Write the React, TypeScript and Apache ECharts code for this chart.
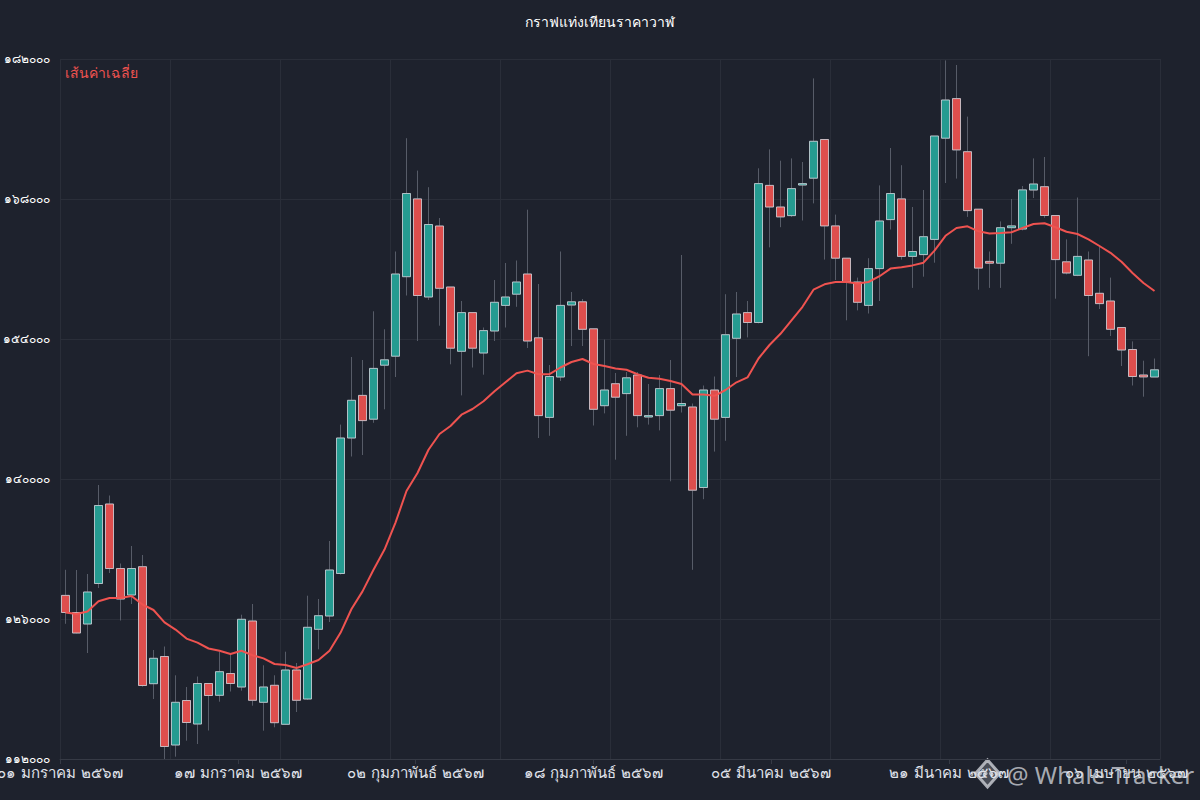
import React, { useEffect, useRef } from "react";
import * as echarts from "echarts";

const TH_DIGITS = "๐๑๒๓๔๕๖๗๘๙";
const toThai = (s: string | number) =>
  String(s).replace(/[0-9]/g, (d) => TH_DIGITS[Number(d)]);

const titleText = "กราฟแท่งเทียนราคาวาฬ";
const maName = "เส้นค่าเฉลี่ย";
const watermarkText = "@ Whale Tracker";

const thaiMonths = [
  "มกราคม", "กุมภาพันธ์", "มีนาคม", "เมษายน", "พฤษภาคม", "มิถุนายน",
  "กรกฎาคม", "สิงหาคม", "กันยายน", "ตุลาคม", "พฤศจิกายน", "ธันวาคม",
];

// 100 consecutive days
const startDate = new Date(2024, 0, 1);
const pad2 = (n: number) => (n < 10 ? "0" + n : String(n));
const categories: string[] = Array.from({ length: 100 }, (_, i) => {
  const d = new Date(startDate.getTime() + i * 86400000);
  return toThai(pad2(d.getDate())) + " " + thaiMonths[d.getMonth()] + " " + toThai(d.getFullYear() + 543);
});

const yMin = 112000;
const yMax = 182000;
const yInterval = 14000;

const openValues = [
  128360, 126650, 125500, 129550, 137500, 131050, 128400, 131230, 119530, 122250,
  113400, 117850, 115500, 119550, 118370, 120550, 119200, 125800, 117670, 119370,
  115470, 120900, 118000, 124970, 126300, 130550, 144100, 148360, 145980, 151380,
  152280, 160230, 168010, 158200, 165300, 159200, 152770, 156640, 152600, 154800,
  157360, 158480, 160500, 154120, 146160, 150200, 157400, 157720, 155020, 147330,
  149530, 148540, 150400, 146200, 146340, 149040, 147330, 147200, 139150, 148900,
  146160, 154070, 156640, 155650, 169360, 167200, 166340, 169400, 170080, 173950,
  165310, 162080, 159700, 157360, 161040, 165940, 168010, 162260, 162440, 163960,
  174080, 178040, 172730, 166980, 161760, 161580, 165130, 165000, 168900, 169230,
  166350, 161720, 160370, 161900, 158570, 157800, 155150, 152950, 150400, 150200,
];
const closeValues = [
  126650, 124600, 128700, 137350, 131050, 128000, 131050, 119350, 122070, 113250,
  117670, 115650, 119550, 118350, 120730, 119550, 125970, 117870, 119200, 115630,
  120900, 117870, 125170, 126330, 130900, 144100, 147870, 145840, 151060, 151920,
  160500, 168550, 158350, 165450, 159070, 153080, 156640, 153080, 154840, 157670,
  158200, 159700, 153800, 146340, 150250, 157360, 157720, 154970, 146970, 148900,
  148180, 150120, 146340, 146340, 149040, 146880, 147550, 138880, 148900, 145980,
  154430, 156500, 155650, 169540, 167200, 166210, 169040, 169540, 173770, 165310,
  162080, 159700, 157670, 161040, 165800, 168550, 162260, 162750, 164230, 174300,
  177900, 172910, 166840, 161090, 161580, 165130, 165310, 168910, 169500, 166350,
  161940, 160600, 162260, 158350, 157540, 154970, 152900, 150250, 150210, 150920,
];
const lowValues = [
  125520, 124550, 122600, 129100, 130600, 125850, 127500, 119230, 118000, 112000,
  112230, 113830, 113500, 114850, 117730, 118750, 118830, 117330, 114830, 115170,
  115400, 116700, 117900, 122970, 125700, 130450, 142250, 142400, 145620, 146970,
  150200, 158350, 153800, 157900, 155330, 151470, 148360, 151150, 150430, 153800,
  155150, 157220, 153100, 144100, 144320, 149800, 153300, 153300, 145350, 146560,
  141930, 144320, 145170, 145440, 144860, 139770, 146650, 130920, 137980, 142740,
  143820, 150200, 154160, 155560, 163160, 165180, 166200, 165850, 167560, 161940,
  159900, 155870, 156860, 156550, 157800, 164950, 161940, 159110, 160230, 161630,
  169600, 170040, 166210, 158930, 159110, 159110, 163520, 164860, 168100, 166120,
  158030, 160460, 160280, 152280, 157000, 154300, 151300, 149350, 148230, 150200,
];
const highValues = [
  130920, 130900, 130500, 139400, 138350, 131550, 133300, 132400, 122900, 123250,
  120370, 119200, 120250, 119600, 122730, 122400, 126430, 127500, 121370, 120370,
  122730, 121600, 128330, 128000, 133800, 145440, 152200, 151900, 156770, 154970,
  162750, 174080, 170840, 169180, 166100, 159200, 157800, 156640, 155150, 159900,
  161600, 161850, 166930, 159500, 151400, 162750, 158700, 158000, 155020, 153940,
  150600, 150700, 150700, 149500, 150400, 151900, 162400, 147550, 149350, 150250,
  158480, 158700, 157800, 171070, 172960, 171830, 172060, 171700, 180060, 173950,
  166440, 162080, 160140, 162080, 169360, 173100, 171380, 167200, 168900, 174300,
  181860, 181400, 176240, 166980, 162750, 165760, 168000, 169300, 172060, 172200,
  166350, 163960, 168150, 162750, 163300, 160140, 155150, 153760, 151830, 152050,
];
const maValues = [
  126650, 126500, 126740, 127770, 128100, 128100, 128300, 127450, 126900, 125660,
  124940, 124040, 123640, 123050, 122830, 122500, 122830, 122380, 122060, 121500,
  121400, 121100, 121470, 121900, 122830, 124620, 127000, 128760, 130920, 132940,
  135640, 138800, 140600, 142920, 144500, 145300, 146430, 147000, 147780, 148770,
  149670, 150570, 150840, 150480, 150480, 151150, 151700, 152000, 151500, 151300,
  151060, 150930, 150480, 150120, 150030, 149800, 149500, 148450, 148450, 148320,
  148900, 149670, 150160, 152050, 153400, 154520, 155870, 157220, 158930, 159470,
  159700, 159700, 159560, 159700, 160280, 161040, 161180, 161360, 161630, 162840,
  164320, 165100, 165270, 164770, 164550, 164600, 164680, 165100, 165500, 165580,
  165180, 164730, 164500, 163960, 163300, 162620, 161720, 160600, 159600, 158800,
];

const UP = "#26a69a";
const DOWN = "#ef5350";
const BG = "#1e222d";
const GRID = "#2a2e39";

export default function App() {
  const ref = useRef<HTMLDivElement>(null);
  useEffect(() => {
    if (!ref.current) return;
    const chart = echarts.init(ref.current, undefined, { renderer: "svg" });
    const fullCandles = openValues.map((o, i) => [o, closeValues[i], lowValues[i], highValues[i]]);
    const bodies = openValues.map((o, i) => [
      o,
      closeValues[i],
      Math.min(o, closeValues[i]),
      Math.max(o, closeValues[i]),
    ]);
    const wm = "rgba(205,208,214,0.8)";
    chart.setOption({
      animation: false,
      backgroundColor: BG,
      textStyle: { fontFamily: "DejaVu Sans" },
      title: {
        text: titleText,
        left: "center",
        top: 10,
        textStyle: { color: "#ffffff", fontSize: 14, fontWeight: "normal" },
      },
      legend: {
        data: [maName],
        left: 55,
        top: 61,
        icon: "none",
        itemWidth: 0,
        itemHeight: 14,
        textStyle: { color: DOWN, fontSize: 14 },
      },
      grid: { left: 60, right: 40, top: 59, bottom: 41, outerBoundsMode: "none" },
      xAxis: [
        {
          type: "category",
          data: categories,
          boundaryGap: true,
          position: "top",
          axisLine: { show: false },
          axisTick: { show: false },
          axisLabel: { show: false },
          splitLine: { show: true, interval: 9, lineStyle: { color: GRID, width: 1 } },
        },
        {
          type: "category",
          data: categories,
          boundaryGap: false,
          position: "bottom",
          axisLine: { show: true, lineStyle: { color: "#363a45" } },
          axisTick: { show: true, interval: 15, length: 5, lineStyle: { color: "#363a45" } },
          axisLabel: { interval: 15, color: "#e0e3eb", fontSize: 15, margin: 6 },
          splitLine: { show: false },
        },
      ],
      yAxis: {
        type: "value",
        min: yMin,
        max: yMax,
        interval: yInterval,
        axisLine: { show: false },
        axisTick: { show: false },
        axisLabel: {
          color: "#ffffff",
          fontSize: 12,
          margin: 10,
          formatter: (v: number) => toThai(v),
        },
        splitLine: { show: true, lineStyle: { color: GRID, width: 1 } },
      },
      series: [
        {
          name: "wicks",
          type: "candlestick",
          xAxisIndex: 0,
          data: fullCandles,
          barWidth: 8,
          silent: true,
          itemStyle: {
            color: "transparent",
            color0: "transparent",
            borderColor: "#575c68",
            borderColor0: "#575c68",
            borderWidth: 1,
          },
        },
        {
          name: "bodies",
          type: "candlestick",
          xAxisIndex: 0,
          data: bodies,
          barWidth: 8,
          itemStyle: {
            color: UP,
            color0: DOWN,
            borderColor: "rgba(214,217,224,0.8)",
            borderColor0: "rgba(214,217,224,0.8)",
            borderWidth: 1,
            opacity: 0.92,
          },
        },
        {
          name: maName,
          type: "line",
          xAxisIndex: 0,
          data: maValues,
          symbol: "none",
          smooth: false,
          lineStyle: { color: DOWN, width: 2 },
          itemStyle: { color: DOWN },
          z: 5,
        },
      ],
      graphic: [
        {
          type: "group",
          z: 100,
          children: [
            {
              type: "polygon",
              shape: { points: [[987.5, 760], [999.5, 773.5], [987.5, 787], [975.5, 773.5]] },
              style: { fill: "rgba(205,208,214,0.25)", stroke: wm, lineWidth: 3 },
            },
            { type: "circle", shape: { cx: 980, cy: 773.5, r: 2 }, style: { fill: wm } },
            { type: "circle", shape: { cx: 985.5, cy: 773.5, r: 2 }, style: { fill: wm } },
            { type: "circle", shape: { cx: 991, cy: 773.5, r: 2 }, style: { fill: wm } },
            { type: "circle", shape: { cx: 996.5, cy: 773.5, r: 2 }, style: { fill: wm } },
            {
              type: "text",
              x: 1007,
              y: 774,
              style: {
                text: watermarkText,
                fill: wm,
                font: "24px 'Noto Sans'",
                textVerticalAlign: "middle",
              },
            },
          ],
        },
      ],
    });
    return () => chart.dispose();
  }, []);
  return (
    <div
      ref={ref}
      style={{ position: "fixed", left: 0, top: 0, width: 1200, height: 800 }}
    />
  );
}
